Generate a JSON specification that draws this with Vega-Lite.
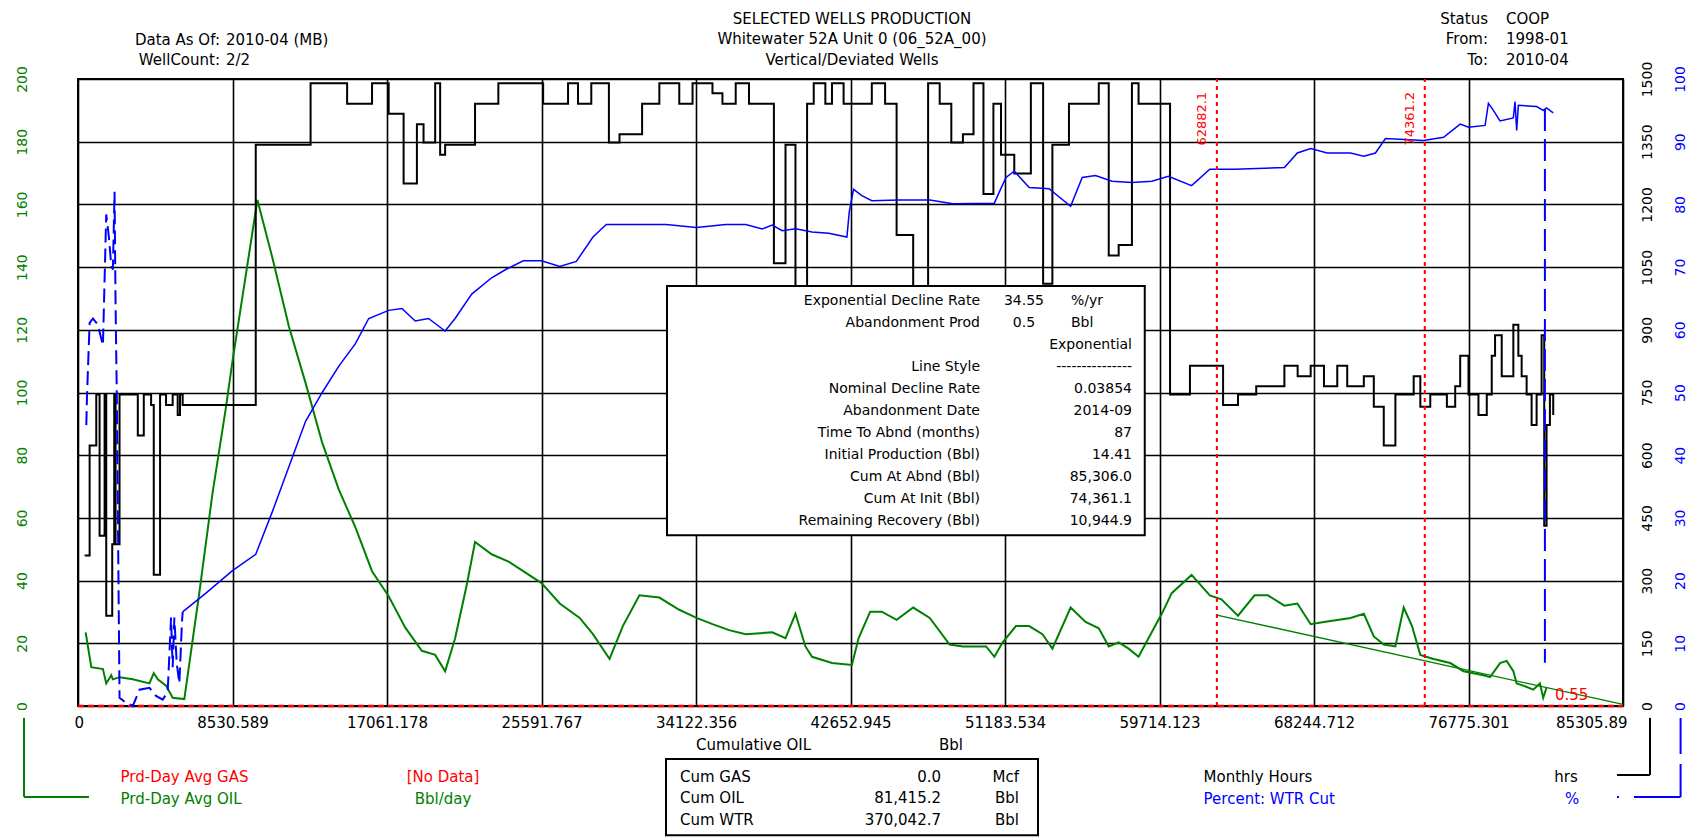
{
  "$schema": "https://vega.github.io/schema/vega-lite/v6.json",
  "width": 1545,
  "height": 627,
  "autosize": {"type": "none"},
  "padding": {"left": 78, "top": 79, "right": 77, "bottom": 132},
  "background": "white",
  "config": {
    "view": {"stroke": "#000000", "strokeWidth": 2},
    "font": "DejaVu Sans",
    "text": {"font": "DejaVu Sans"}
  },
  "datasets": {
    "oil": [
      {"cum":422,"oil":23.5},{"cum":734,"oil":12.4},{"cum":1376,"oil":11.8},{"cum":1559,"oil":7.2},{"cum":1835,"oil":9.8},{"cum":1926,"oil":8.5},{"cum":2293,"oil":9.2},{"cum":3027,"oil":8.5},{"cum":3944,"oil":7.2},{"cum":4183,"oil":10.5},{"cum":4403,"oil":8.5},{"cum":4861,"oil":6.5},{"cum":5228,"oil":2.6},{"cum":5870,"oil":2.2},{"cum":6696,"oil":36},{"cum":7430,"oil":68},{"cum":8163,"oil":95},{"cum":8530,"oil":110},{"cum":9906,"oil":161.4},{"cum":10732,"oil":143},{"cum":11649,"oil":121},{"cum":12566,"oil":103},{"cum":13484,"oil":84},{"cum":14401,"oil":69},{"cum":15318,"oil":57},{"cum":16235,"oil":43},{"cum":17153,"oil":35},{"cum":18070,"oil":25},{"cum":18987,"oil":17.6},{"cum":19721,"oil":16.3},{"cum":20271,"oil":11.1},{"cum":20822,"oil":21.6},{"cum":21464,"oil":38.6},{"cum":21922,"oil":52.3},{"cum":22839,"oil":48.4},{"cum":23800,"oil":46},{"cum":25592,"oil":39.2},{"cum":26600,"oil":32.7},{"cum":27700,"oil":28.1},{"cum":28433,"oil":22.9},{"cum":29349,"oil":15.0},{"cum":30082,"oil":25.5},{"cum":30999,"oil":35.3},{"cum":32099,"oil":34.6},{"cum":33199,"oil":30.7},{"cum":34152,"oil":28.1},{"cum":35032,"oil":26.1},{"cum":35948,"oil":24.2},{"cum":36865,"oil":22.9},{"cum":38331,"oil":23.5},{"cum":39064,"oil":21.6},{"cum":39614,"oil":29.4},{"cum":40164,"oil":19.0},{"cum":40531,"oil":15.7},{"cum":41630,"oil":13.7},{"cum":42730,"oil":13.1},{"cum":43097,"oil":21.6},{"cum":43738,"oil":30.1},{"cum":44380,"oil":30.1},{"cum":45199,"oil":27.5},{"cum":46114,"oil":31.4},{"cum":47029,"oil":28.1},{"cum":48127,"oil":19.6},{"cum":48860,"oil":19.0},{"cum":50140,"oil":19.0},{"cum":50598,"oil":15.7},{"cum":51056,"oil":20.3},{"cum":51787,"oil":25.5},{"cum":52519,"oil":25.5},{"cum":53251,"oil":22.9},{"cum":53800,"oil":18.3},{"cum":54807,"oil":31.4},{"cum":55630,"oil":26.8},{"cum":56362,"oil":24.8},{"cum":56911,"oil":19.0},{"cum":57460,"oil":20.3},{"cum":58009,"oil":18.3},{"cum":58558,"oil":15.7},{"cum":59107,"oil":21.6},{"cum":59839,"oil":29.4},{"cum":60388,"oil":36.0},{"cum":61486,"oil":41.8},{"cum":62493,"oil":35.3},{"cum":63133,"oil":34.0},{"cum":64048,"oil":28.8},{"cum":64963,"oil":35.3},{"cum":65695,"oil":35.3},{"cum":66610,"oil":32.0},{"cum":67327,"oil":32.7},{"cum":68061,"oil":26.1},{"cum":68795,"oil":26.8},{"cum":70263,"oil":28.1},{"cum":70996,"oil":29.4},{"cum":71547,"oil":22.2},{"cum":72097,"oil":19.6},{"cum":72739,"oil":19.0},{"cum":73198,"oil":31.4},{"cum":73656,"oil":25.5},{"cum":74115,"oil":16.3},{"cum":74849,"oil":15.0},{"cum":75766,"oil":13.7},{"cum":76500,"oil":11.1},{"cum":77600,"oil":9.8},{"cum":77967,"oil":9.2},{"cum":78518,"oil":13.7},{"cum":78884,"oil":14.4},{"cum":79251,"oil":11.1},{"cum":79435,"oil":7.2},{"cum":79802,"oil":6.5},{"cum":80352,"oil":5.2},{"cum":80719,"oil":7.2},{"cum":80902,"oil":2.6},{"cum":81086,"oil":5.9}
    ],
    "decline": [{"cum":62882.1,"rate":29.0},{"cum":85306.0,"rate":0.5}],
    "gas": [{"cum":0,"gas":0},{"cum":85305.89,"gas":0}],
    "marks": [{"cum":62882.1,"label":"62882.1"},{"cum":74361.2,"label":"74361.2"}],
    "hours": [
      {"cum":367,"hrs":360},{"cum":642,"hrs":623},{"cum":1009,"hrs":745},{"cum":1192,"hrs":407},{"cum":1468,"hrs":745},{"cum":1559,"hrs":216},{"cum":1890,"hrs":387},{"cum":2000,"hrs":745},{"cum":2073,"hrs":387},{"cum":2293,"hrs":745},{"cum":3302,"hrs":647},{"cum":3632,"hrs":745},{"cum":4036,"hrs":720},{"cum":4183,"hrs":314},{"cum":4531,"hrs":745},{"cum":4861,"hrs":720},{"cum":5228,"hrs":745},{"cum":5504,"hrs":696},{"cum":5632,"hrs":745},{"cum":5779,"hrs":720},{"cum":9814,"hrs":1343},{"cum":12842,"hrs":1490},{"cum":14859,"hrs":1441},{"cum":16235,"hrs":1490},{"cum":17153,"hrs":1417},{"cum":17978,"hrs":1250},{"cum":18712,"hrs":1392},{"cum":19079,"hrs":1348},{"cum":19721,"hrs":1490},{"cum":19996,"hrs":1319},{"cum":20271,"hrs":1343},{"cum":21922,"hrs":1441},{"cum":23209,"hrs":1490},{"cum":25683,"hrs":1441},{"cum":27058,"hrs":1490},{"cum":27608,"hrs":1441},{"cum":28341,"hrs":1490},{"cum":29313,"hrs":1348},{"cum":29899,"hrs":1368},{"cum":31146,"hrs":1441},{"cum":32099,"hrs":1490},{"cum":33199,"hrs":1441},{"cum":33932,"hrs":1490},{"cum":35032,"hrs":1466},{"cum":35582,"hrs":1441},{"cum":36315,"hrs":1490},{"cum":37048,"hrs":1441},{"cum":38423,"hrs":1059},{"cum":39064,"hrs":1343},{"cum":39614,"hrs":500},{"cum":40256,"hrs":1441},{"cum":40623,"hrs":1490},{"cum":41264,"hrs":1441},{"cum":41630,"hrs":1490},{"cum":42272,"hrs":1441},{"cum":43830,"hrs":1490},{"cum":44563,"hrs":1441},{"cum":45199,"hrs":1127},{"cum":46114,"hrs":600},{"cum":46938,"hrs":1490},{"cum":47578,"hrs":1441},{"cum":48219,"hrs":1348},{"cum":48860,"hrs":1368},{"cum":49445,"hrs":1490},{"cum":49994,"hrs":1225},{"cum":50543,"hrs":1441},{"cum":50963,"hrs":1319},{"cum":51696,"hrs":1274},{"cum":52611,"hrs":1490},{"cum":53288,"hrs":1010},{"cum":53800,"hrs":1343},{"cum":54715,"hrs":1441},{"cum":56362,"hrs":1490},{"cum":56911,"hrs":1078},{"cum":57460,"hrs":1103},{"cum":58192,"hrs":1490},{"cum":58558,"hrs":1441},{"cum":60297,"hrs":745},{"cum":61395,"hrs":814},{"cum":63225,"hrs":720},{"cum":64048,"hrs":745},{"cum":65055,"hrs":765},{"cum":66610,"hrs":814},{"cum":67342,"hrs":789},{"cum":68061,"hrs":814},{"cum":68795,"hrs":765},{"cum":69529,"hrs":814},{"cum":70079,"hrs":765},{"cum":70996,"hrs":789},{"cum":71547,"hrs":716},{"cum":72097,"hrs":623},{"cum":72739,"hrs":745},{"cum":73748,"hrs":789},{"cum":74115,"hrs":716},{"cum":74665,"hrs":745},{"cum":75582,"hrs":716},{"cum":76041,"hrs":765},{"cum":76316,"hrs":838},{"cum":76775,"hrs":745},{"cum":77325,"hrs":696},{"cum":77784,"hrs":745},{"cum":78059,"hrs":838},{"cum":78242,"hrs":887},{"cum":78609,"hrs":789},{"cum":79251,"hrs":912},{"cum":79527,"hrs":838},{"cum":79710,"hrs":789},{"cum":79985,"hrs":745},{"cum":80260,"hrs":672},{"cum":80536,"hrs":745},{"cum":80811,"hrs":887},{"cum":80957,"hrs":431},{"cum":81086,"hrs":672},{"cum":81270,"hrs":745},{"cum":81453,"hrs":696}
    ],
    "wtrdash": [
      {"cum":459,"wtr":44.8},{"cum":495,"wtr":49.3},{"cum":642,"wtr":61.1},{"cum":826,"wtr":61.8},{"cum":1101,"wtr":60.8},{"cum":1376,"wtr":57.5},{"cum":1559,"wtr":78.4},{"cum":1706,"wtr":74.8},{"cum":1835,"wtr":70.3},{"cum":1926,"wtr":69.6},{"cum":2018,"wtr":82.0},{"cum":2073,"wtr":64.4},{"cum":2146,"wtr":48.7},{"cum":2293,"wtr":1.3},{"cum":2568,"wtr":0.7},{"cum":3027,"wtr":0.0},{"cum":3394,"wtr":2.6},{"cum":3944,"wtr":2.9},{"cum":4311,"wtr":1.6},{"cum":4678,"wtr":1.0},{"cum":4953,"wtr":2.3},{"cum":5137,"wtr":14.1},{"cum":5228,"wtr":6.2},{"cum":5320,"wtr":14.1},{"cum":5448,"wtr":6.9},{"cum":5595,"wtr":3.6},{"cum":5742,"wtr":13.4},{"cum":5779,"wtr":15.0}
    ],
    "wtr": [
      {"cum":5779,"wtr":15.0},{"cum":7063,"wtr":18.0},{"cum":8530,"wtr":21.6},{"cum":9814,"wtr":24.2},{"cum":10732,"wtr":31.0},{"cum":11649,"wtr":38.2},{"cum":12566,"wtr":45.4},{"cum":13484,"wtr":50.0},{"cum":14401,"wtr":54.2},{"cum":15318,"wtr":57.8},{"cum":16052,"wtr":61.8},{"cum":17153,"wtr":63.1},{"cum":17886,"wtr":63.4},{"cum":18620,"wtr":61.4},{"cum":19354,"wtr":61.8},{"cum":20271,"wtr":59.8},{"cum":20822,"wtr":61.8},{"cum":21739,"wtr":65.7},{"cum":22839,"wtr":68.3},{"cum":23667,"wtr":69.7},{"cum":24584,"wtr":71.0},{"cum":25592,"wtr":71.0},{"cum":26600,"wtr":70.1},{"cum":27516,"wtr":70.9},{"cum":28433,"wtr":74.8},{"cum":29166,"wtr":76.8},{"cum":30449,"wtr":76.8},{"cum":32466,"wtr":76.8},{"cum":34152,"wtr":76.3},{"cum":35765,"wtr":76.8},{"cum":36865,"wtr":76.8},{"cum":37781,"wtr":76.1},{"cum":38331,"wtr":76.7},{"cum":38881,"wtr":75.8},{"cum":39614,"wtr":76.1},{"cum":40531,"wtr":75.6},{"cum":41447,"wtr":75.4},{"cum":42455,"wtr":74.8},{"cum":42584,"wtr":78.8},{"cum":42822,"wtr":82.4},{"cum":43280,"wtr":81.4},{"cum":43830,"wtr":80.6},{"cum":45297,"wtr":80.7},{"cum":47029,"wtr":80.7},{"cum":48310,"wtr":80.1},{"cum":50598,"wtr":80.2},{"cum":50872,"wtr":82.0},{"cum":51238,"wtr":84.3},{"cum":51696,"wtr":85.3},{"cum":52519,"wtr":82.7},{"cum":53617,"wtr":82.5},{"cum":54807,"wtr":79.7},{"cum":55447,"wtr":84.3},{"cum":56179,"wtr":84.6},{"cum":57094,"wtr":83.7},{"cum":58192,"wtr":83.5},{"cum":59290,"wtr":83.7},{"cum":60205,"wtr":84.5},{"cum":61486,"wtr":83.0},{"cum":62493,"wtr":85.6},{"cum":63865,"wtr":85.6},{"cum":66610,"wtr":85.9},{"cum":67327,"wtr":88.2},{"cum":68061,"wtr":88.9},{"cum":68978,"wtr":88.2},{"cum":70263,"wtr":88.2},{"cum":70996,"wtr":87.7},{"cum":71638,"wtr":88.2},{"cum":72188,"wtr":90.5},{"cum":74298,"wtr":90.2},{"cum":75399,"wtr":90.7},{"cum":76316,"wtr":92.8},{"cum":76775,"wtr":92.3},{"cum":77692,"wtr":92.6},{"cum":77875,"wtr":96.1},{"cum":78059,"wtr":95.4},{"cum":78518,"wtr":93.3},{"cum":79251,"wtr":93.8},{"cum":79343,"wtr":96.4},{"cum":79435,"wtr":91.8},{"cum":79527,"wtr":95.8},{"cum":80536,"wtr":95.6},{"cum":80902,"wtr":95.0},{"cum":81086,"wtr":95.4},{"cum":81453,"wtr":94.6}
    ],
    "wtrdrop": [{"cum":80994,"wtr":95.2},{"cum":80994,"wtr":6.9}]
  },
  "layer": [
    {
      "data": {"name": "gas"},
      "mark": {"type": "line", "color": "#ff0000", "strokeWidth": 2.5, "strokeDash": [6, 4]},
      "encoding": {
        "x": {"field": "cum", "type": "quantitative",
          "scale": {"domain": [0, 85305.89], "nice": false, "zero": false},
          "axis": {"orient": "bottom", "values": [0, 8530.589, 17061.178, 25591.767, 34122.356, 42652.945, 51183.534, 59714.123, 68244.712, 76775.301, 85305.89],
            "format": ".10~g", "grid": true, "gridColor": "#000000", "gridWidth": 1.6, "gridOpacity": 1,
            "domain": false, "ticks": false, "labelFontSize": 15, "labelColor": "#000000", "labelPadding": 9,
            "labelFlush": true, "labelFlushOffset": 4, "labelOverlap": false, "title": null}},
        "y": {"field": "gas", "type": "quantitative",
          "scale": {"domain": [0, 200], "nice": false},
          "axis": {"orient": "left", "values": [0, 20, 40, 60, 80, 100, 120, 140, 160, 180, 200], "format": "d",
            "grid": true, "gridColor": "#000000", "gridWidth": 1.6, "gridOpacity": 1, "domain": false, "ticks": false,
            "labelAngle": 270, "labelAlign": "center", "labelBaseline": "middle", "labelPadding": 56,
            "labelColor": "#008000", "labelFontSize": 14, "labelOverlap": false, "labelFlush": false, "title": null}}
      }
    },
    {
      "data": {"name": "oil"},
      "mark": {"type": "line", "color": "#008000", "strokeWidth": 2},
      "encoding": {
        "x": {"field": "cum", "type": "quantitative"},
        "y": {"field": "oil", "type": "quantitative", "scale": {"domain": [0, 200], "nice": false}, "axis": null}
      }
    },
    {
      "data": {"name": "decline"},
      "mark": {"type": "line", "color": "#008000", "strokeWidth": 1.3},
      "encoding": {
        "x": {"field": "cum", "type": "quantitative"},
        "y": {"field": "rate", "type": "quantitative", "scale": {"domain": [0, 200], "nice": false}, "axis": null}
      }
    },
    {
      "data": {"name": "hours"},
      "mark": {"type": "line", "color": "#000000", "strokeWidth": 2, "interpolate": "step-after"},
      "encoding": {
        "x": {"field": "cum", "type": "quantitative"},
        "y": {"field": "hrs", "type": "quantitative",
          "scale": {"domain": [0, 1500], "nice": false},
          "axis": {"orient": "right", "values": [0, 150, 300, 450, 600, 750, 900, 1050, 1200, 1350, 1500], "format": "d",
            "grid": false, "domain": false, "ticks": false, "labelAngle": 270, "labelAlign": "center", "labelBaseline": "middle",
            "labelPadding": 24, "labelColor": "#000000", "labelFontSize": 14, "labelOverlap": false, "labelFlush": false, "title": null}}
      }
    },
    {
      "data": {"name": "wtr"},
      "mark": {"type": "line", "color": "#0000ff", "strokeWidth": 1.5},
      "encoding": {
        "x": {"field": "cum", "type": "quantitative"},
        "y": {"field": "wtr", "type": "quantitative",
          "scale": {"domain": [0, 100], "nice": false},
          "axis": {"orient": "right", "offset": 33, "values": [0, 10, 20, 30, 40, 50, 60, 70, 80, 90, 100], "format": "d",
            "grid": false, "domain": false, "ticks": false, "labelAngle": 270, "labelAlign": "center", "labelBaseline": "middle",
            "labelPadding": 24, "labelColor": "#0000ff", "labelFontSize": 14, "labelOverlap": false, "labelFlush": false, "title": null}}
      }
    },
    {
      "data": {"name": "wtrdash"},
      "mark": {"type": "line", "color": "#0000ff", "strokeWidth": 2, "strokeDash": [14, 6]},
      "encoding": {
        "x": {"field": "cum", "type": "quantitative"},
        "y": {"field": "wtr", "type": "quantitative", "scale": {"domain": [0, 100], "nice": false}, "axis": null}
      }
    },
    {
      "data": {"name": "wtrdrop"},
      "mark": {"type": "line", "color": "#0000ff", "strokeWidth": 2, "strokeDash": [22, 8]},
      "encoding": {
        "x": {"field": "cum", "type": "quantitative"},
        "y": {"field": "wtr", "type": "quantitative", "scale": {"domain": [0, 100], "nice": false}, "axis": null}
      }
    },
    {
      "data": {"name": "marks"},
      "mark": {"type": "rule", "color": "#ff0000", "strokeWidth": 2, "strokeDash": [4, 4]},
      "encoding": {
        "x": {"field": "cum", "type": "quantitative"},
        "y": {"datum": 0, "scale": {"domain": [0, 200], "nice": false}, "axis": null},
        "y2": {"datum": 200}
      }
    },
    {
      "data": {"name": "marks"},
      "mark": {"type": "text", "color": "#ff0000", "fontSize": 13, "angle": 270, "align": "right", "baseline": "middle", "dy": -15},
      "encoding": {
        "x": {"field": "cum", "type": "quantitative"},
        "y": {"datum": 195.9, "scale": {"domain": [0, 200], "nice": false}, "axis": null},
        "text": {"field": "label"}
      }
    },
    {
      "data": {"values": [{}]},
      "mark": {"type": "text", "text": "0.55", "color": "#ff0000", "fontSize": 15, "align": "left", "baseline": "alphabetic"},
      "encoding": {"x": {"datum": 81545}, "y": {"datum": 1.9, "scale": {"domain": [0, 200], "nice": false}, "axis": null}}
    },
    {
      "data": {"values": [{}]},
      "mark": {"type": "rect", "fill": "#ffffff", "stroke": "#000000", "strokeWidth": 2},
      "encoding": {"x": {"datum": 32521}, "x2": {"datum": 58900}, "y": {"datum": 134.0, "scale": {"domain": [0, 200], "nice": false}, "axis": null}, "y2": {"datum": 54.5}}
    },
    {
      "data": {"values": [{}]},
      "mark": {"type": "text", "align": "right", "baseline": "alphabetic", "fontSize": 14, "lineHeight": 22, "color": "#000000",
        "text": ["Exponential Decline Rate", "Abandonment Prod"]},
      "encoding": {"x": {"datum": 49803}, "y": {"datum": 127.9, "scale": {"domain": [0, 200], "nice": false}, "axis": null}}
    },
    {
      "data": {"values": [{}]},
      "mark": {"type": "text", "align": "right", "baseline": "alphabetic", "fontSize": 14, "lineHeight": 22, "color": "#000000",
        "text": ["Line Style", "Nominal Decline Rate", "Abandonment Date", "Time To Abnd (months)", "Initial Production (Bbl)", "Cum At Abnd (Bbl)", "Cum At Init (Bbl)", "Remaining Recovery (Bbl)"]},
      "encoding": {"x": {"datum": 49803}, "y": {"datum": 106.9, "scale": {"domain": [0, 200], "nice": false}, "axis": null}}
    },
    {
      "data": {"values": [{}]},
      "mark": {"type": "text", "align": "right", "baseline": "alphabetic", "fontSize": 14, "lineHeight": 22, "color": "#000000",
        "text": ["Exponential", "---------------", "0.03854", "2014-09", "87", "14.41", "85,306.0", "74,361.1", "10,944.9"]},
      "encoding": {"x": {"datum": 58196}, "y": {"datum": 113.9, "scale": {"domain": [0, 200], "nice": false}, "axis": null}}
    },
    {
      "data": {"values": [{}]},
      "mark": {"type": "text", "align": "center", "baseline": "alphabetic", "fontSize": 14, "lineHeight": 22, "color": "#000000",
        "text": ["34.55", "0.5"]},
      "encoding": {"x": {"datum": 52232}, "y": {"datum": 127.9, "scale": {"domain": [0, 200], "nice": false}, "axis": null}}
    },
    {
      "data": {"values": [{}]},
      "mark": {"type": "text", "align": "left", "baseline": "alphabetic", "fontSize": 14, "lineHeight": 22, "color": "#000000",
        "text": ["%/yr", "Bbl"]},
      "encoding": {"x": {"datum": 54828}, "y": {"datum": 127.9, "scale": {"domain": [0, 200], "nice": false}, "axis": null}}
    },
    {
      "data": {"values": [{}]},
      "mark": {"type": "text", "align": "center", "baseline": "alphabetic", "fontSize": 15, "lineHeight": 20.6, "color": "#000000",
        "text": ["SELECTED WELLS PRODUCTION", "Whitewater 52A Unit 0 (06_52A_00)", "Vertical/Deviated Wells"]},
      "encoding": {"x": {"datum": 42735}, "y": {"datum": 217.7, "scale": {"domain": [0, 200], "nice": false}, "axis": null}}
    },
    {
      "data": {"values": [{}]},
      "mark": {"type": "text", "align": "right", "baseline": "alphabetic", "fontSize": 15, "lineHeight": 20, "color": "#000000",
        "text": ["Data As Of:", "WellCount:"]},
      "encoding": {"x": {"datum": 7840}, "y": {"datum": 210.8, "scale": {"domain": [0, 200], "nice": false}, "axis": null}}
    },
    {
      "data": {"values": [{}]},
      "mark": {"type": "text", "align": "left", "baseline": "alphabetic", "fontSize": 15, "lineHeight": 20, "color": "#000000",
        "text": ["2010-04 (MB)", "2/2"]},
      "encoding": {"x": {"datum": 8172}, "y": {"datum": 210.8, "scale": {"domain": [0, 200], "nice": false}, "axis": null}}
    },
    {
      "data": {"values": [{}]},
      "mark": {"type": "text", "align": "right", "baseline": "alphabetic", "fontSize": 15, "lineHeight": 20.6, "color": "#000000",
        "text": ["Status", "From:", "To:"]},
      "encoding": {"x": {"datum": 77852}, "y": {"datum": 217.7, "scale": {"domain": [0, 200], "nice": false}, "axis": null}}
    },
    {
      "data": {"values": [{}]},
      "mark": {"type": "text", "align": "left", "baseline": "alphabetic", "fontSize": 15, "lineHeight": 20.6, "color": "#000000",
        "text": ["COOP", "1998-01", "2010-04"]},
      "encoding": {"x": {"datum": 78846}, "y": {"datum": 217.7, "scale": {"domain": [0, 200], "nice": false}, "axis": null}}
    },
    {
      "data": {"values": [{}]},
      "mark": {"type": "text", "align": "center", "baseline": "alphabetic", "fontSize": 15, "color": "#000000", "text": "Cumulative OIL"},
      "encoding": {"x": {"datum": 37300}, "y": {"datum": -14.0, "scale": {"domain": [0, 200], "nice": false}, "axis": null}}
    },
    {
      "data": {"values": [{}]},
      "mark": {"type": "text", "align": "center", "baseline": "alphabetic", "fontSize": 15, "color": "#000000", "text": "Bbl"},
      "encoding": {"x": {"datum": 48202}, "y": {"datum": -14.0, "scale": {"domain": [0, 200], "nice": false}, "axis": null}}
    },
    {
      "data": {"values": [{}]},
      "mark": {"type": "rect", "fill": "#ffffff", "stroke": "#000000", "strokeWidth": 2},
      "encoding": {"x": {"datum": 32466}, "x2": {"datum": 53005}, "y": {"datum": -16.9, "scale": {"domain": [0, 200], "nice": false}, "axis": null}, "y2": {"datum": -41.2}}
    },
    {
      "data": {"values": [{}]},
      "mark": {"type": "text", "align": "left", "baseline": "alphabetic", "fontSize": 15, "lineHeight": 21.5, "color": "#000000",
        "text": ["Cum GAS", "Cum OIL", "Cum WTR"]},
      "encoding": {"x": {"datum": 33239}, "y": {"datum": -24.2, "scale": {"domain": [0, 200], "nice": false}, "axis": null}}
    },
    {
      "data": {"values": [{}]},
      "mark": {"type": "text", "align": "right", "baseline": "alphabetic", "fontSize": 15, "lineHeight": 21.5, "color": "#000000",
        "text": ["0.0", "81,415.2", "370,042.7"]},
      "encoding": {"x": {"datum": 47650}, "y": {"datum": -24.2, "scale": {"domain": [0, 200], "nice": false}, "axis": null}}
    },
    {
      "data": {"values": [{}]},
      "mark": {"type": "text", "align": "right", "baseline": "alphabetic", "fontSize": 15, "lineHeight": 21.5, "color": "#000000",
        "text": ["Mcf", "Bbl", "Bbl"]},
      "encoding": {"x": {"datum": 51957}, "y": {"datum": -24.2, "scale": {"domain": [0, 200], "nice": false}, "axis": null}}
    },
    {
      "data": {"values": [{}]},
      "mark": {"type": "text", "align": "left", "baseline": "alphabetic", "fontSize": 15, "color": "#ff0000", "text": "Prd-Day Avg GAS"},
      "encoding": {"x": {"datum": 2347}, "y": {"datum": -24.2, "scale": {"domain": [0, 200], "nice": false}, "axis": null}}
    },
    {
      "data": {"values": [{}]},
      "mark": {"type": "text", "align": "center", "baseline": "alphabetic", "fontSize": 15, "color": "#ff0000", "text": "[No Data]"},
      "encoding": {"x": {"datum": 20153}, "y": {"datum": -24.2, "scale": {"domain": [0, 200], "nice": false}, "axis": null}}
    },
    {
      "data": {"values": [{}]},
      "mark": {"type": "text", "align": "left", "baseline": "alphabetic", "fontSize": 15, "color": "#008000", "text": "Prd-Day Avg OIL"},
      "encoding": {"x": {"datum": 2347}, "y": {"datum": -31.3, "scale": {"domain": [0, 200], "nice": false}, "axis": null}}
    },
    {
      "data": {"values": [{}]},
      "mark": {"type": "text", "align": "center", "baseline": "alphabetic", "fontSize": 15, "color": "#008000", "text": "Bbl/day"},
      "encoding": {"x": {"datum": 20153}, "y": {"datum": -31.3, "scale": {"domain": [0, 200], "nice": false}, "axis": null}}
    },
    {
      "data": {"values": [{}]},
      "mark": {"type": "text", "align": "left", "baseline": "alphabetic", "fontSize": 15, "color": "#000000", "text": "Monthly Hours"},
      "encoding": {"x": {"datum": 62149}, "y": {"datum": -24.2, "scale": {"domain": [0, 200], "nice": false}, "axis": null}}
    },
    {
      "data": {"values": [{}]},
      "mark": {"type": "text", "align": "center", "baseline": "alphabetic", "fontSize": 15, "color": "#000000", "text": "hrs"},
      "encoding": {"x": {"datum": 82159}, "y": {"datum": -24.2, "scale": {"domain": [0, 200], "nice": false}, "axis": null}}
    },
    {
      "data": {"values": [{}]},
      "mark": {"type": "text", "align": "left", "baseline": "alphabetic", "fontSize": 15, "color": "#0000ff", "text": "Percent: WTR Cut"},
      "encoding": {"x": {"datum": 62149}, "y": {"datum": -31.3, "scale": {"domain": [0, 200], "nice": false}, "axis": null}}
    },
    {
      "data": {"values": [{}]},
      "mark": {"type": "text", "align": "center", "baseline": "alphabetic", "fontSize": 15, "color": "#0000ff", "text": "%"},
      "encoding": {"x": {"datum": 82490}, "y": {"datum": -31.3, "scale": {"domain": [0, 200], "nice": false}, "axis": null}}
    },
    {
      "data": {"values": [{}]},
      "mark": {"type": "rule", "color": "#008000", "strokeWidth": 2},
      "encoding": {"x": {"datum": -2982}, "y": {"datum": -3.8, "scale": {"domain": [0, 200], "nice": false}, "axis": null}, "y2": {"datum": -29.0}}
    },
    {
      "data": {"values": [{}]},
      "mark": {"type": "rule", "color": "#008000", "strokeWidth": 2},
      "encoding": {"x": {"datum": -2982}, "x2": {"datum": 607}, "y": {"datum": -29.0, "scale": {"domain": [0, 200], "nice": false}, "axis": null}}
    },
    {
      "data": {"values": [{}]},
      "mark": {"type": "rule", "color": "#000000", "strokeWidth": 2},
      "encoding": {"x": {"datum": 86797}, "y": {"datum": -3.8, "scale": {"domain": [0, 200], "nice": false}, "axis": null}, "y2": {"datum": -22.0}}
    },
    {
      "data": {"values": [{}]},
      "mark": {"type": "rule", "color": "#000000", "strokeWidth": 2},
      "encoding": {"x": {"datum": 84973}, "x2": {"datum": 86797}, "y": {"datum": -22.0, "scale": {"domain": [0, 200], "nice": false}, "axis": null}}
    },
    {
      "data": {"values": [{}]},
      "mark": {"type": "rule", "color": "#0000ff", "strokeWidth": 2, "strokeDash": [36, 10]},
      "encoding": {"x": {"datum": 88486}, "y": {"datum": -3.8, "scale": {"domain": [0, 200], "nice": false}, "axis": null}, "y2": {"datum": -29.0}}
    },
    {
      "data": {"values": [{}]},
      "mark": {"type": "rule", "color": "#0000ff", "strokeWidth": 2, "strokeDash": [2, 15, 100]},
      "encoding": {"x": {"datum": 84973}, "x2": {"datum": 88486}, "y": {"datum": -29.0, "scale": {"domain": [0, 200], "nice": false}, "axis": null}}
    }
  ],
  "resolve": {"scale": {"y": "independent"}}
}
